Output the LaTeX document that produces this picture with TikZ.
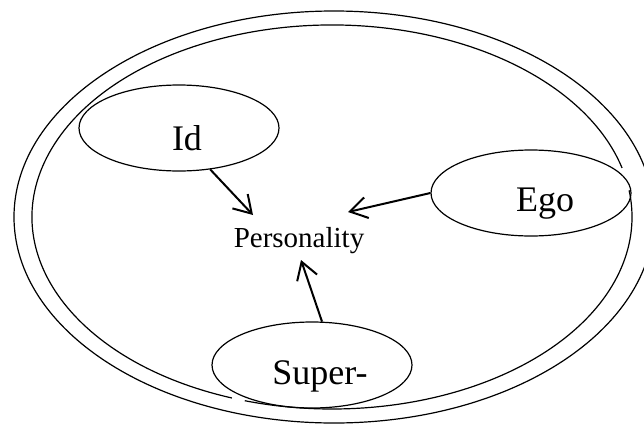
\documentclass[tikz,border=0pt]{standalone}
\usepackage{fontspec}
\setmainfont{Liberation Serif}
\usetikzlibrary{shapes.geometric,arrows.meta,calc}
\begin{document}
\begin{tikzpicture}[x=1pt,y=-1pt,
  ring/.style={line width=1.2pt},
  oval/.style={draw, ellipse, line width=1.2pt, minimum width=200pt, minimum height=86pt, inner sep=0pt},
  big/.style={font=\fontsize{36}{40}\selectfont, inner sep=0pt},
  arr/.style={line width=2pt, -{Straight Barb[length=17pt,width=21pt,line width=2pt]}}]
\useasboundingbox (0,0) rectangle (644,423);
% rings
\draw[ring] (334,217) ellipse [x radius=320, y radius=206];
\draw[ring] ([shift={(-8:300 and 192)}]332,217) arc[start angle=-8, end angle=106.9, x radius=300, y radius=192];
\draw[ring] ([shift={(109.5:300 and 192)}]332,217) arc[start angle=109.5, end angle=345.2, x radius=300, y radius=192];
% ovals
\node[oval, label={[big,xshift=8pt,yshift=-10pt]center:Id}] (id) at (179,128) {};
\node[oval, label={[big,xshift=14pt,yshift=-11pt]center:Ego}] (ego) at (531,193) {};
\node[oval, label={[big,xshift=8pt,yshift=-11pt]center:Super-}] (sup) at (312,365) {};
\node[font=\fontsize{29}{33}\selectfont, inner sep=0pt] (pers) at (299,241) {Personality};
% arrows
\draw[arr] (id.-53) -- ([shift={(-46pt,26pt)}]pers.center);
\draw[arr] (ego.west) -- ([shift={(49pt,29pt)}]pers.center);
\draw[arr] (sup.77) -- ([shift={(2pt,-19pt)}]pers.center);
\end{tikzpicture}
\end{document}
